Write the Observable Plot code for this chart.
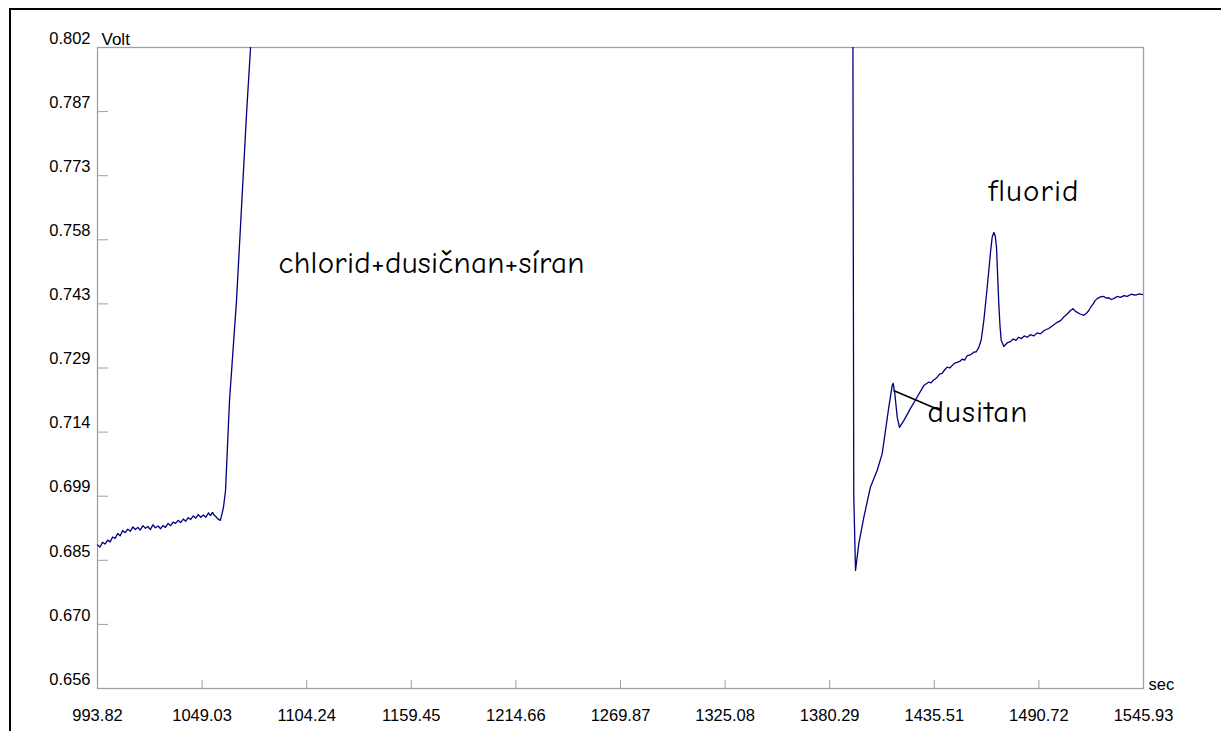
<!DOCTYPE html>
<html>
<head>
<meta charset="utf-8">
<script src="https://cdn.jsdelivr.net/npm/d3@7"></script>
<script src="https://cdn.jsdelivr.net/npm/@observablehq/plot@0.6"></script>
<style>
  html, body { margin: 0; padding: 0; background: #fff; }
  #wrap { position: relative; width: 1221px; height: 731px; overflow: hidden; }
  #border { position: absolute; left: 9px; top: 8px; right: -5px; bottom: -5px;
            border-top: 2px solid #000; border-left: 2px solid #000; pointer-events: none; }
  #chart { position: absolute; left: 0; top: 0; }
</style>
</head>
<body>
<div id="wrap"><div id="chart"></div><div id="border"></div></div>
<script>
// ---- data (time in sec, signal in Volt) ----
const timeSec = [
  993.82, 995.1, 996.5, 997.8, 999.2, 1000.5, 1001.8, 1003.1, 1004.5, 1005.8,
  1007.1, 1008.4, 1009.8, 1011.1, 1012.5, 1013.8, 1015.1, 1016.4, 1017.8, 1019.1,
  1020.4, 1021.7, 1023.1, 1024.4, 1025.8, 1027.1, 1028.4, 1029.7, 1031.1, 1032.4,
  1033.7, 1035.0, 1036.4, 1037.7, 1039.1, 1040.4, 1041.7, 1043.0, 1044.4, 1045.7,
  1047.0, 1048.3, 1049.7, 1051.0, 1052.4, 1053.4, 1054.5, 1055.3, 1056.0, 1057.2,
  1058.7, 1060.3, 1061.4, 1063.5, 1067.2, 1072.5, 1074.6, 1078.0, 1100.0, 1390.0,
  1392.3, 1393.0, 1393.92, 1395.66, 1398.30, 1401.83, 1405.37, 1408.01, 1409.75, 1411.49,
  1413.29, 1413.82, 1414.66, 1415.93, 1417.14, 1419.41, 1422.95, 1426.48, 1429.97, 1431.3,
  1432.61, 1433.8, 1435.0, 1436.0, 1437.04, 1438.3, 1439.6, 1441.0, 1442.32, 1443.7,
  1445.0, 1446.3, 1447.60, 1448.9, 1450.2, 1451.5, 1452.87, 1454.6, 1456.36, 1457.7,
  1459.00, 1460.3, 1461.64, 1463.0, 1464.28, 1465.2, 1466.07, 1466.92, 1467.7, 1468.34,
  1468.9, 1469.55, 1470.2, 1470.82, 1472.19, 1473.9, 1475.73, 1477.1, 1478.6, 1480.0,
  1481.5, 1483.0, 1484.54, 1486.2, 1488.0, 1489.8, 1491.56, 1493.7, 1495.9, 1498.1,
  1500.38, 1502.2, 1504.0, 1505.7, 1507.40, 1508.7, 1510.04, 1512.5, 1514.42, 1515.7,
  1517.06, 1518.3, 1519.5, 1520.5, 1521.49, 1523.2, 1524.98, 1526.3, 1527.6, 1528.9,
  1530.25, 1532.0, 1533.8, 1535.6, 1537.33, 1539.5, 1541.6, 1543.8, 1545.93
];
const volt = [
  0.6887, 0.6882, 0.6893, 0.6889, 0.6898, 0.6894, 0.6905, 0.6902, 0.6913, 0.6908,
  0.6920, 0.6915, 0.6923, 0.6918, 0.6928, 0.6922, 0.6927, 0.6921, 0.6931, 0.6925,
  0.6929, 0.6922, 0.6933, 0.6926, 0.6930, 0.6924, 0.6931, 0.6927, 0.6936, 0.6931,
  0.6939, 0.6936, 0.6943, 0.6938, 0.6946, 0.6941, 0.6949, 0.6945, 0.6953, 0.6948,
  0.6956, 0.6950, 0.6955, 0.6950, 0.6960, 0.6954, 0.6961, 0.6955, 0.6953, 0.6947,
  0.6943, 0.6972, 0.7011, 0.7216, 0.7444, 0.7870, 0.8020, 0.8300, 0.8600, 0.8600,
  0.8600, 0.7000, 0.6829, 0.6890, 0.6950, 0.7019, 0.7057, 0.7095, 0.7148, 0.7201,
  0.7250, 0.7255, 0.7232, 0.7178, 0.7155, 0.7170, 0.7198, 0.7224, 0.7250, 0.7254,
  0.7258, 0.7256, 0.7262, 0.7265, 0.7269, 0.7276, 0.7278, 0.7286, 0.7292, 0.7290,
  0.7296, 0.7301, 0.7303, 0.7305, 0.7310, 0.7308, 0.7318, 0.7320, 0.7326, 0.7327,
  0.7337, 0.7355, 0.7398, 0.7455, 0.7512, 0.7555, 0.7588, 0.7599, 0.7590, 0.7565,
  0.7505, 0.7436, 0.7385, 0.7353, 0.7339, 0.7347, 0.7350, 0.7356, 0.7353, 0.7360,
  0.7357, 0.7363, 0.7360, 0.7366, 0.7363, 0.7370, 0.7368, 0.7376, 0.7380, 0.7387,
  0.7394, 0.7398, 0.7407, 0.7413, 0.7421, 0.7425, 0.7419, 0.7413, 0.7410, 0.7414,
  0.7421, 0.7430, 0.7437, 0.7444, 0.7448, 0.7452, 0.7453, 0.7449, 0.7450, 0.7446,
  0.7448, 0.7453, 0.7451, 0.7455, 0.7453, 0.7458, 0.7456, 0.7459, 0.7457
];

// axis ticks and labels
const xTicks = [993.82, 1049.03, 1104.24, 1159.45, 1214.66, 1269.87, 1325.08, 1380.29, 1435.51, 1490.72, 1545.93];
const xTickLabels = ["993.82", "1049.03", "1104.24", "1159.45", "1214.66", "1269.87", "1325.08", "1380.29", "1435.51", "1490.72", "1545.93"];
const yTicks = [0.656, 0.6706, 0.6852, 0.6998, 0.7144, 0.729, 0.7436, 0.7582, 0.7728, 0.7874, 0.802];
const yTickLabels = ["0.656", "0.670", "0.685", "0.699", "0.714", "0.729", "0.743", "0.758", "0.773", "0.787", "0.802"];

// annotations
const noteText = ["chlorid+dusičnan+síran", "fluorid", "dusitan"];
const noteTime = [1089.36, 1464.12, 1431.92];
const noteVolt = [0.7528, 0.7694, 0.7189];
const leaderTime = [1413.98, 1438.78];
const leaderVolt = [0.7239, 0.7193];

// ---- build ----
const signal = timeSec.map((t, i) => ({t, v: volt[i]}));
const notes = noteText.map((text, i) => ({text, t: noteTime[i], v: noteVolt[i]}));
const leader = [{x1: leaderTime[0], y1: leaderVolt[0], x2: leaderTime[1], y2: leaderVolt[1]}];

const axisFont = "Arial, 'Liberation Sans', sans-serif";
const noteFont = "'Comic Sans MS', 'Comic Neue', cursive, sans-serif";
const noteWidthsPx = [306, 90, 100]; // rendered text widths (style)
const gray = "#a0a0a0";

const chart = Plot.plot({
  width: 1221,
  height: 731,
  marginLeft: 97,
  marginRight: 78,
  marginTop: 47,
  marginBottom: 43,
  style: {fontFamily: axisFont, fontSize: "16.5px", color: "#000", background: "transparent"},
  x: {domain: [993.82, 1545.93]},
  y: {domain: [0.656, 0.802]},
  marks: [
    Plot.frame({stroke: gray, strokeWidth: 1.3}),
    Plot.axisX(xTicks, {tickSize: -8, stroke: gray, tickFormat: () => ""}),
    Plot.axisX(xTicks, {tickSize: 0, tickPadding: 21, fill: "#000",
      tickFormat: d => xTickLabels[xTicks.indexOf(d)]}),
    Plot.axisY(yTicks, {tickSize: -11, stroke: gray, tickFormat: () => ""}),
    Plot.axisY(yTicks, {tickSize: 0, tickPadding: 7, dy: -9, fill: "#000",
      tickFormat: d => yTickLabels[yTicks.indexOf(d)]}),
    Plot.text(["Volt"], {frameAnchor: "top-left", textAnchor: "start", lineAnchor: "bottom", dx: 4, dy: -3, fontSize: 17}),
    Plot.text(["sec"], {frameAnchor: "bottom-right", textAnchor: "start", lineAnchor: "bottom", dx: 5, dy: 1, fontSize: 16.5}),
    Plot.line(signal, {x: "t", y: "v", stroke: "#000080", strokeWidth: 1.3, clip: true}),
    Plot.link(leader, {x1: "x1", y1: "y1", x2: "x2", y2: "y2", stroke: "#000", strokeWidth: 1.6}),
    Plot.text(notes, {x: "t", y: "v", text: "text", textAnchor: "start", fontSize: 31, fontFamily: noteFont, fill: "#000"})
  ]
});
document.getElementById("chart").appendChild(chart);

// stretch annotation texts to the widths seen in the original
d3.select(chart).selectAll("text").each(function () {
  const i = noteText.indexOf(this.textContent);
  if (i >= 0) {
    this.setAttribute("textLength", noteWidthsPx[i]);
    this.setAttribute("lengthAdjust", "spacing");
  }
});
</script>
</body>
</html>
